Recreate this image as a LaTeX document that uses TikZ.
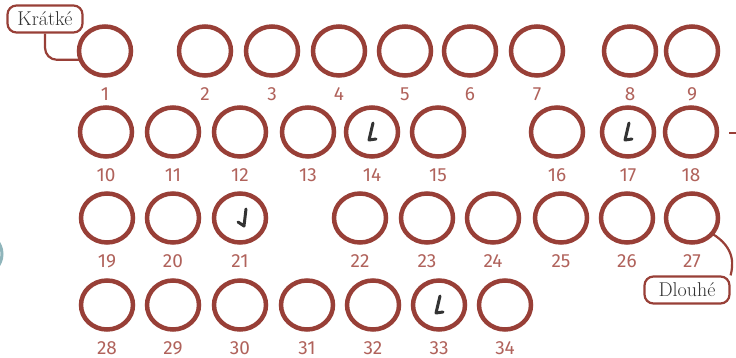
\documentclass[tikz,border=0pt]{standalone}
\usepackage{fontspec}
\newfontfamily\numfont{Fira Sans}
\usetikzlibrary{shapes.geometric}
\definecolor{ringred}{HTML}{983F37}
\definecolor{numred}{HTML}{B0625B}
\definecolor{inkgray}{HTML}{333333}
\definecolor{tealedge}{HTML}{8FB5BB}
\begin{document}
\begin{tikzpicture}[x=1pt,y=-1pt,
  ring/.style={ellipse, draw=ringred, line width=4.5pt, minimum width=52pt, minimum height=49pt, inner sep=0pt, outer sep=0pt},
  num/.style={text=numred, font=\numfont\fontsize{19}{19}\selectfont, inner sep=0pt},
  tag/.style={draw=ringred, line width=2.2pt, rounded corners=9pt, text=inkgray,
    font=\fontsize{20}{20}\selectfont, minimum height=27pt, inner xsep=5pt, inner ysep=0pt},
  link/.style={draw=ringred, line width=2.2pt},
  tick/.style={draw=inkgray, line width=3pt, line cap=round, line join=round}]
\useasboundingbox (0,0) rectangle (736,358);
\foreach \n/\x/\y in {1/105/51, 2/205/51, 3/272/51, 4/339/51, 5/405/51, 6/470/51, 7/537/51, 8/630/51, 9/692/51,
  10/106/132, 11/173/132, 12/240/132, 13/308/132, 14/372/132, 15/438/132, 16/557/132, 17/628/132, 18/691/132,
  19/107/218, 20/173/218, 21/240/218, 22/360/218, 23/427/218, 24/493/218, 25/561/218, 26/627/218, 27/692/218,
  28/107/305, 29/173/305, 30/240/305, 31/307/305, 32/373/305, 33/439/305, 34/505/305}{
  \node[ring] (c\n) at (\x,\y) {};
  \node[num] (n\n) at (\x,\y+43) {\n};
}
% ticks
\draw[tick] (c14.center) ++(1,-9) -- ++(-4,17) -- ++(7,-1);
\draw[tick] (c17.center) ++(1,-9) -- ++(-4,17) -- ++(7,-1);
\draw[tick] (c33.center) ++(1,-9) -- ++(-4,17) -- ++(7,-1);
\draw[tick] (c21.center) ++(6,-9) -- ++(-2,17) -- ++(-6,-4);
% callouts
\node[tag, minimum width=75pt] (k) at (45,19) {Krátké};
\node[tag, minimum width=85pt] (d) at (687,290) {Dlouhé};
\draw[link, rounded corners=12pt] (k.south) |- (c1.200);
\draw[link] (c27.-38) .. controls (736,248) and (733,266) .. (d.north east);
% edge fragments
\draw[ringred, line width=2.5pt] (729,133) -- (740,133);
\draw[tealedge, line width=3pt] (-19,254) circle (21);
\end{tikzpicture}
\end{document}
